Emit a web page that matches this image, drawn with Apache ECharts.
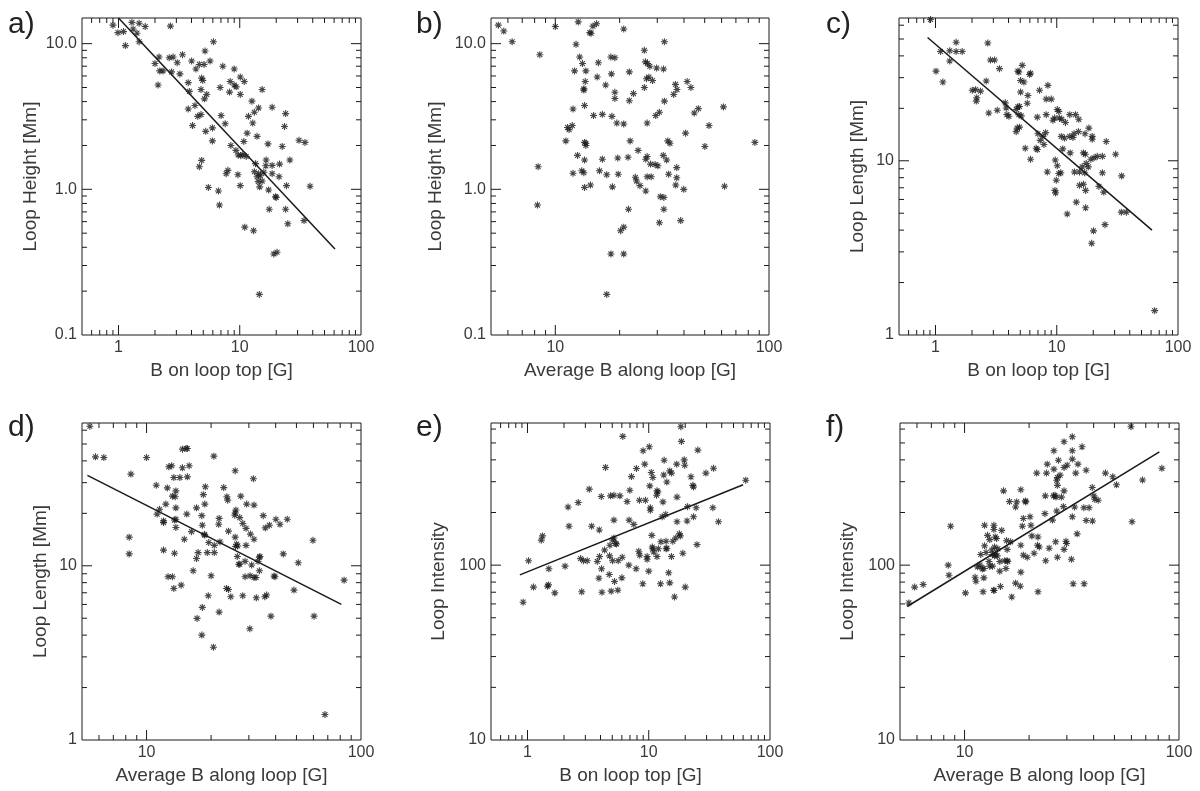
<!DOCTYPE html>
<html>
<head>
<meta charset="utf-8">
<title>Loop parameters vs magnetic field</title>
<script src="https://cdn.jsdelivr.net/npm/echarts@6.0.0/dist/echarts.min.js"></script>
<style>
  html, body { margin: 0; padding: 0; background: #fff; }
  #chart { width: 1200px; height: 791px; }
</style>
</head>
<body>
<div id="chart"></div>
<script>
// loop height [Mm] vs B on loop top [G]
const heightVsBtop = [
  [0.90, 13.4], [0.99, 11.9], [1.10, 12.1], [1.29, 14.0], [1.32, 12.6], [1.42, 11.8], [1.48, 13.8], [1.66, 13.1],
  [2.68, 13.2], [1.14, 9.7], [1.48, 10.3], [6.07, 10.3], [5.17, 8.9], [3.37, 8.4], [2.82, 8.1], [2.16, 8.1],
  [2.62, 8.0], [2.0, 7.3], [3.05, 7.4], [4.01, 7.6], [5.69, 7.6], [7.25, 7.0], [9.0, 6.7], [4.64, 7.2],
  [5.08, 7.2], [4.35, 6.7], [2.19, 6.5], [2.33, 6.5], [2.74, 6.4], [3.21, 6.2], [4.85, 5.8], [4.95, 5.6],
  [10.1, 5.9], [10.9, 5.5], [8.34, 5.5], [9.0, 5.2], [9.35, 5.05], [3.76, 5.4], [2.12, 5.2], [6.89, 5.0],
  [3.84, 4.7], [4.79, 4.84], [15.3, 4.84], [5.34, 4.48], [5.11, 4.18], [8.24, 4.65], [10.1, 4.48], [12.6, 4.03],
  [3.76, 3.56], [4.27, 3.76], [7.02, 3.21], [14.3, 3.62], [13.2, 3.38], [11.8, 3.17], [18.5, 3.66], [23.9, 3.31],
  [4.5, 3.17], [4.79, 3.26], [4.08, 2.74], [7.58, 2.82], [12.8, 2.85], [23.4, 2.70], [5.24, 2.50], [5.95, 2.64],
  [11.5, 2.43], [13.9, 2.31], [10.8, 2.13], [5.95, 2.15], [17.1, 2.05], [30.8, 2.17], [34.5, 2.10], [22.4, 1.97],
  [8.45, 2.0], [9.3, 1.85], [9.7, 1.72], [10.2, 1.70], [10.6, 1.73], [11.3, 1.68], [16.5, 1.59], [4.64, 1.43],
  [4.85, 1.58], [13.5, 1.50], [16.4, 1.45], [21.3, 1.49], [18.5, 1.46], [25.9, 1.59], [13.2, 1.32], [15.8, 1.31],
  [14.3, 1.28], [13.9, 1.22], [14.8, 1.24], [7.98, 1.35], [7.73, 1.28], [9.66, 1.26], [21.1, 1.22], [18.5, 1.28],
  [14.2, 1.13], [15.3, 1.14], [14.6, 1.04], [10.1, 1.06], [5.51, 1.03], [6.67, 0.975], [24.3, 1.06], [17.3, 0.99],
  [38.0, 1.05], [19.7, 0.89], [20.0, 0.88], [6.8, 0.78], [17.5, 0.73], [23.9, 0.73], [33.9, 0.61], [24.9, 0.58],
  [11.0, 0.55], [13.0, 0.52], [19.1, 0.36], [20.3, 0.37], [14.5, 0.19]
];

// loop height [Mm] vs average B along loop [G]
const heightVsBavg = [
  [5.41, 13.4], [5.74, 12.2], [6.28, 10.3], [10.0, 13.1], [12.8, 14.1], [14.5, 11.9], [14.7, 11.8], [15.0, 13.2],
  [15.6, 13.7], [20.9, 12.6], [8.46, 8.4], [32.4, 10.3], [12.5, 9.9], [13.0, 8.1], [13.4, 7.3], [12.3, 6.5],
  [13.9, 6.5], [15.9, 7.4], [15.7, 5.9], [13.8, 5.5], [13.6, 4.9], [13.6, 4.8], [13.7, 3.76], [12.1, 3.56],
  [18.2, 8.1], [19.0, 8.0], [18.3, 6.2], [17.2, 5.2], [19.0, 4.64], [19.0, 4.2], [22.2, 6.4], [23.2, 4.54],
  [22.2, 4.06], [26.1, 9.0], [26.4, 7.5], [27.0, 7.3], [27.7, 7.0], [26.1, 5.0], [26.7, 5.74], [27.4, 5.89],
  [28.5, 5.58], [29.8, 6.8], [32.1, 6.7], [32.4, 4.03], [36.5, 5.25], [37.1, 4.84], [35.8, 4.48], [41.4, 5.5],
  [43.1, 5.0], [44.7, 3.34], [46.7, 3.58], [52.4, 2.74], [40.7, 2.43], [61.2, 3.68], [15.1, 3.21], [16.6, 3.27],
  [18.4, 3.17], [19.4, 2.85], [20.9, 2.81], [26.9, 2.85], [29.5, 3.21], [30.7, 3.38], [11.4, 2.66], [11.6, 2.57],
  [12.0, 2.74], [11.2, 2.15], [13.7, 2.10], [13.9, 2.0], [13.9, 2.07], [22.4, 2.15], [33.6, 2.15], [34.4, 2.07],
  [50.1, 1.97], [85.9, 2.10], [12.7, 1.71], [13.7, 1.59], [16.6, 1.61], [19.6, 1.64], [21.9, 1.66], [24.4, 1.85],
  [26.5, 1.61], [26.9, 1.68], [27.9, 1.49], [29.3, 1.48], [30.2, 1.45], [32.0, 1.71], [33.2, 1.59], [37.0, 1.41],
  [12.1, 1.29], [13.3, 1.34], [13.6, 1.30], [16.1, 1.34], [17.4, 1.26], [19.7, 1.27], [23.7, 1.21], [24.0, 1.14],
  [24.9, 1.06], [26.5, 0.975], [26.9, 1.22], [28.1, 1.22], [33.9, 1.27], [37.0, 1.20], [36.6, 1.07], [39.9, 1.0],
  [14.6, 1.07], [13.7, 1.03], [18.5, 1.04], [61.9, 1.05], [8.31, 1.43], [8.25, 0.78], [22.0, 0.73], [31.0, 0.89],
  [32.2, 0.88], [32.2, 0.73], [30.7, 0.59], [38.6, 0.61], [20.2, 0.52], [20.9, 0.55], [18.2, 0.36], [20.9, 0.36],
  [17.4, 0.19]
];

// loop length [Mm] vs B on loop top [G]
const lengthVsBtop = [
  [0.91, 64.7], [1.48, 47.9], [2.70, 47.4], [1.10, 42.4], [1.31, 42.8], [1.48, 42.4], [1.66, 42.4], [1.31, 37.4],
  [2.84, 37.9], [3.07, 37.9], [5.19, 35.3], [3.37, 33.8], [1.01, 32.7], [4.78, 32.7], [4.87, 32.3], [6.08, 31.8],
  [5.97, 31.3], [2.62, 28.7], [1.15, 28.3], [5.03, 28.9], [5.36, 28.3], [8.45, 27.1], [2.01, 25.4], [2.14, 25.6],
  [7.21, 25.4], [2.35, 25.1], [5.03, 24.8], [5.78, 23.7], [2.19, 23.0], [8.19, 22.6], [9.01, 22.6], [2.17, 22.0],
  [5.71, 21.4], [3.76, 21.5], [4.78, 20.4], [3.83, 20.1], [4.93, 20.5], [3.23, 19.5], [4.63, 19.7], [10.1, 19.7],
  [10.4, 19.2], [2.75, 18.8], [3.88, 18.4], [4.03, 18.0], [4.87, 18.4], [5.10, 18.1], [6.91, 17.8], [8.19, 18.4],
  [9.60, 17.6], [10.5, 17.6], [11.0, 17.3], [9.30, 17.1], [12.8, 18.4], [14.3, 18.4], [15.2, 17.3], [11.8, 16.6],
  [4.72, 15.4], [4.93, 15.6], [4.63, 14.7], [18.4, 15.4], [8.09, 14.5], [15.1, 14.7], [6.99, 14.3], [7.69, 13.8],
  [10.9, 13.8], [11.6, 13.5], [12.8, 13.8], [13.6, 13.6], [17.1, 14.3], [13.9, 14.3], [7.31, 13.1], [19.6, 13.8],
  [19.6, 13.3], [25.6, 12.9], [7.84, 12.4], [5.50, 11.8], [6.77, 11.8], [6.91, 11.6], [11.2, 11.7], [12.9, 11.1],
  [16.6, 11.1], [17.2, 10.9], [23.8, 10.6], [21.6, 10.6], [30.6, 10.9], [20.3, 10.4], [19.1, 10.2], [6.08, 10.2],
  [9.72, 10.1], [10.1, 9.36], [16.2, 9.23], [17.5, 9.66], [18.2, 9.23], [23.8, 8.53], [10.4, 8.45], [10.8, 8.53],
  [14.0, 8.63], [15.4, 8.63], [17.0, 8.53], [8.35, 8.63], [34.3, 8.19], [9.91, 7.73], [16.6, 7.33], [15.4, 7.23],
  [17.3, 6.76], [9.66, 6.76], [9.78, 6.53], [24.4, 6.61], [22.3, 7.13], [14.5, 5.79], [17.3, 5.37], [34.1, 5.07],
  [37.5, 5.07], [12.2, 4.95], [25.0, 4.30], [20.1, 3.96], [19.4, 3.36], [64.2, 1.38]
];

// loop length [Mm] vs average B along loop [G]
const lengthVsBavg = [
  [5.44, 63.2], [14.7, 46.7], [15.3, 47.1], [15.5, 47.1], [5.78, 42.2], [6.32, 41.8], [10.0, 41.8], [20.6, 42.6],
  [12.7, 37.0], [13.1, 37.5], [14.7, 36.5], [15.8, 37.5], [8.45, 33.6], [25.9, 35.1], [13.4, 32.1], [14.3, 32.1],
  [15.5, 32.4], [31.5, 31.6], [11.1, 29.0], [12.5, 28.0], [22.9, 28.1], [13.7, 26.9], [13.2, 25.1], [13.6, 24.9],
  [23.7, 24.9], [23.9, 23.8], [27.5, 25.1], [18.8, 28.4], [18.4, 25.6], [12.3, 22.6], [18.7, 22.6], [29.3, 22.6],
  [31.7, 22.3], [11.5, 21.1], [13.7, 21.5], [17.1, 21.5], [11.2, 19.8], [15.4, 19.8], [26.1, 20.9], [25.9, 20.1],
  [25.8, 19.5], [27.2, 18.9], [21.8, 18.7], [18.1, 19.4], [35.0, 19.4], [12.0, 18.1], [13.7, 18.5], [13.5, 18.3],
  [12.0, 17.7], [21.7, 17.3], [13.7, 16.6], [16.2, 15.7], [18.2, 17.1], [18.6, 15.1], [18.7, 15.0], [24.1, 15.8],
  [28.1, 17.5], [29.1, 16.4], [35.8, 16.5], [37.4, 17.1], [40.1, 18.5], [41.9, 17.3], [45.3, 18.5], [30.5, 15.2],
  [25.9, 14.6], [31.7, 14.2], [15.0, 14.2], [8.30, 14.6], [19.5, 13.6], [22.0, 13.7], [26.3, 13.3], [29.1, 13.1],
  [26.0, 12.9], [26.6, 13.0], [59.7, 14.0], [20.7, 13.1], [12.0, 12.3], [13.5, 11.8], [17.4, 11.9], [19.2, 11.9],
  [20.7, 11.9], [26.5, 11.3], [33.6, 11.2], [43.4, 11.7], [8.30, 11.7], [17.1, 11.0], [26.9, 10.2], [27.2, 10.2],
  [28.8, 10.6], [30.9, 10.1], [33.1, 10.6], [33.8, 11.3], [51.0, 10.4], [16.5, 9.36], [28.8, 8.65], [30.4, 8.76],
  [31.7, 8.57], [32.4, 8.57], [33.6, 9.36], [39.3, 8.73], [39.7, 8.65], [20.0, 8.76], [12.6, 8.65], [13.2, 8.65],
  [14.5, 7.74], [13.4, 7.41], [23.6, 7.41], [24.1, 7.31], [19.4, 6.73], [24.7, 6.64], [28.1, 6.73], [35.6, 6.64],
  [36.3, 6.79], [48.7, 7.25], [83.4, 8.27], [32.5, 6.55], [21.8, 5.42], [18.2, 5.77], [17.2, 4.99], [38.0, 5.14],
  [60.4, 5.14], [30.3, 4.35], [18.1, 4.00], [20.5, 3.41], [67.9, 1.40]
];

// loop intensity vs B on loop top [G]
const intensityVsBtop = [
  [18.4, 619], [6.11, 545], [18.6, 510], [10.1, 475], [8.99, 451], [25.4, 455], [13.4, 398], [19.6, 400],
  [17.0, 378], [19.8, 373], [9.27, 378], [7.92, 357], [4.40, 362], [34.2, 358], [10.5, 339], [14.9, 346],
  [15.4, 336], [13.3, 328], [10.8, 317], [7.20, 321], [29.6, 336], [22.3, 320], [14.1, 299], [3.23, 272],
  [10.2, 284], [23.1, 286], [23.4, 280], [6.98, 268], [11.7, 266], [11.9, 262], [63.1, 306], [4.06, 247],
  [4.84, 249], [5.16, 251], [5.78, 249], [11.6, 251], [17.1, 245], [8.38, 235], [9.39, 235], [6.63, 231],
  [13.1, 230], [2.16, 215], [2.62, 228], [10.3, 213], [10.3, 206], [20.9, 216], [24.6, 213], [33.8, 213],
  [12.9, 189], [13.8, 195], [5.16, 181], [6.89, 181], [7.53, 171], [20.7, 179], [23.4, 189], [37.6, 177],
  [2.20, 167], [3.38, 167], [3.91, 159], [17.1, 177], [17.9, 151], [18.2, 147], [1.33, 147], [1.30, 139],
  [10.6, 148], [5.16, 143], [5.06, 139], [4.78, 130], [5.32, 133], [5.42, 132], [12.6, 136], [13.9, 137],
  [15.8, 137], [16.7, 143], [25.0, 131], [4.32, 122], [8.27, 120], [8.43, 114], [10.7, 127], [10.8, 124],
  [11.0, 119], [12.0, 124], [13.9, 124], [14.1, 125], [19.1, 117], [6.04, 111], [4.75, 113], [3.93, 112],
  [2.74, 109], [2.89, 106], [3.11, 106], [5.03, 106], [5.60, 106], [6.85, 100], [9.69, 112], [9.69, 108],
  [11.7, 112], [15.4, 112], [1.02, 106], [2.04, 98.7], [3.76, 105], [1.50, 95.3], [4.08, 95.3], [7.87, 95.3],
  [10.0, 92.4], [4.72, 88.4], [14.6, 90.4], [3.88, 84.2], [5.22, 80.6], [6.00, 84.6], [8.93, 78.2], [12.5, 78.2],
  [14.9, 79.2], [20.0, 74.9], [1.12, 74.9], [1.46, 75.8], [1.49, 77.1], [1.68, 69.4], [2.80, 70.4], [4.11, 70.0],
  [4.90, 71.0], [5.56, 71.9], [16.3, 65.8], [0.92, 61.4]
];

// loop intensity vs average B along loop [G]
const intensityVsBavg = [
  [59.7, 619], [31.8, 542], [29.1, 508], [31.8, 451], [26.1, 451], [35.3, 475], [27.4, 398], [31.8, 404],
  [24.3, 378], [33.8, 378], [21.7, 336], [24.1, 336], [26.1, 354], [29.1, 362], [30.1, 373], [33.0, 336],
  [36.9, 349], [45.4, 336], [49.1, 320], [27.9, 327], [27.1, 317], [26.9, 306], [27.1, 286], [29.1, 266],
  [15.2, 266], [18.3, 270], [51.1, 288], [39.4, 278], [67.6, 307], [83.2, 358], [23.8, 249], [26.0, 249],
  [26.4, 251], [26.7, 245], [28.3, 245], [40.1, 249], [40.5, 238], [42.0, 235], [16.2, 231], [17.5, 230],
  [19.3, 230], [19.2, 233], [17.3, 215], [28.9, 216], [32.6, 215], [36.0, 213], [38.1, 213], [26.9, 204],
  [23.7, 197], [20.2, 189], [31.8, 189], [18.8, 185], [25.7, 181], [36.9, 180], [39.5, 179], [60.4, 177],
  [12.4, 169], [13.7, 169], [18.6, 167], [20.4, 169], [8.61, 167], [13.7, 160], [14.9, 158], [33.5, 151],
  [20.6, 147], [22.0, 145], [12.8, 148], [13.9, 145], [13.1, 140], [14.1, 142], [16.4, 136], [26.6, 136],
  [29.7, 137], [29.9, 133], [15.7, 138], [18.3, 130], [21.9, 130], [22.3, 127], [24.8, 125], [12.4, 129],
  [13.8, 127], [13.4, 122], [14.3, 124], [13.9, 116], [12.6, 118], [13.5, 115], [15.8, 123], [18.8, 114],
  [19.6, 111], [21.1, 117], [27.1, 111], [29.1, 123], [31.5, 108], [11.9, 115], [13.8, 113], [14.2, 113],
  [15.4, 106], [15.8, 106], [13.0, 105], [14.6, 105], [15.9, 105], [23.9, 106], [8.39, 100], [11.8, 100],
  [13.1, 98.7], [11.5, 97.8], [13.5, 98.7], [12.3, 95.7], [12.1, 95.1], [14.6, 92.4], [15.6, 95.7], [8.46, 87.6],
  [11.2, 85.3], [11.3, 80.9], [12.3, 84.6], [18.3, 91.2], [5.85, 74.9], [6.41, 77.5], [17.3, 78.9], [18.2, 75.8],
  [14.7, 75.5], [32.1, 78.2], [36.1, 78.2], [10.1, 69.4], [12.2, 70.4], [13.7, 71.9], [13.7, 71.6], [22.0, 70.4],
  [16.6, 65.8], [5.50, 60.8]
];

// power-law fit lines (end points)
const fitHeightBtop = [[1.0, 15], [61, 0.39]];
const fitLengthBtop = [[0.86, 51], [61, 4.0]];
const fitLengthBavg = [[5.3, 33], [81, 6.0]];
const fitIntensityBtop = [[0.865, 88], [60, 288]];
const fitIntensityBavg = [[5.4, 58], [81, 445]];

const panelLetters = ['a)', 'b)', 'c)', 'd)', 'e)', 'f)'];
const xTitles = ['B on loop top [G]', 'Average B along loop [G]', 'B on loop top [G]',
                 'Average B along loop [G]', 'B on loop top [G]', 'Average B along loop [G]'];
const yTitles = ['Loop Height [Mm]', 'Loop Height [Mm]', 'Loop Length [Mm]',
                 'Loop Length [Mm]', 'Loop Intensity', 'Loop Intensity'];

const FONT = 'Liberation Sans';
const INK = '#1a1a1a';
const TEXT = '#3a3a3a';
// IDL style asterisk
const STAR = 'path://M5 0L5 10M0 5L10 5M1.5 1.5L8.5 8.5M8.5 1.5L1.5 8.5';

const panels = [
  { data: heightVsBtop, fit: fitHeightBtop, box: [82, 18, 279, 317], xr: [0.5, 100], yr: [0.1, 15], yDec: 1, yGap: 42, letter: [8, 10] },
  { data: heightVsBavg, fit: null, box: [491, 18, 278, 317], xr: [5, 100], yr: [0.1, 15], yDec: 1, yGap: 46, letter: [416, 10] },
  { data: lengthVsBtop, fit: fitLengthBtop, box: [899, 18, 279, 317], xr: [0.5, 100], yr: [1, 66], yDec: 0, yGap: 32, letter: [826, 10] },
  { data: lengthVsBavg, fit: fitLengthBavg, box: [82, 423, 279, 317], xr: [5, 100], yr: [1, 66], yDec: 0, yGap: 32, letter: [8, 413] },
  { data: intensityVsBtop, fit: fitIntensityBtop, box: [491, 423, 279, 317], xr: [0.5, 100], yr: [10, 650], yDec: 0, yGap: 43, letter: [416, 413] },
  { data: intensityVsBavg, fit: fitIntensityBavg, box: [900, 423, 279, 317], xr: [5, 100], yr: [10, 650], yDec: 0, yGap: 43, letter: [826, 413] }
];

function decadeLabel (decimals) {
  return function (v) {
    const l = Math.log10(v);
    if (Math.abs(l - Math.round(l)) > 1e-6) return '';
    return Math.pow(10, Math.round(l)).toFixed(decimals);
  };
}

// minor/major tick positions of a log axis (1..9 x 10^k)
function logTicks (min, max) {
  const out = [];
  for (let e = Math.floor(Math.log10(min)); e <= Math.ceil(Math.log10(max)); e++) {
    for (let m = 1; m <= 9; m++) {
      const v = m * Math.pow(10, e);
      if (v > min * 1.0001 && v < max * 0.9999) out.push({ v: v, major: m === 1 });
    }
  }
  return out;
}

// ticks on all four sides, pointing inward
function makeTicks (xr, yr) {
  const xt = logTicks(xr[0], xr[1]);
  const yt = logTicks(yr[0], yr[1]);
  return function (params, api) {
    const cs = params.coordSys;
    const x0 = cs.x, x1 = cs.x + cs.width, y0 = cs.y, y1 = cs.y + cs.height;
    const kids = [];
    const seg = (a, b, c, d) => kids.push({
      type: 'line', shape: { x1: a, y1: b, x2: c, y2: d }, style: { stroke: INK, lineWidth: 1 }
    });
    xt.forEach(t => {
      const px = api.coord([t.v, yr[0]])[0];
      const len = t.major ? 10 : 5;
      seg(px, y1, px, y1 - len);
      seg(px, y0, px, y0 + len);
    });
    yt.forEach(t => {
      const py = api.coord([xr[0], t.v])[1];
      const len = t.major ? 10 : 5;
      seg(x0, py, x0 + len, py);
      seg(x1, py, x1 - len, py);
    });
    return { type: 'group', children: kids };
  };
}

const grids = [], xAxes = [], yAxes = [], series = [], graphics = [];

panels.forEach((p, i) => {
  grids.push({
    left: p.box[0], top: p.box[1], width: p.box[2], height: p.box[3],
    show: true, borderColor: INK, borderWidth: 1, backgroundColor: 'transparent',
    containLabel: false, outerBoundsMode: 'none'
  });
  xAxes.push({
    type: 'log', logBase: 10, gridIndex: i, min: p.xr[0], max: p.xr[1],
    axisLine: { show: false }, axisTick: { show: false }, splitLine: { show: false },
    axisLabel: { formatter: decadeLabel(0), fontSize: 16, color: TEXT, fontFamily: FONT, margin: 5 },
    name: xTitles[i], nameLocation: 'middle', nameGap: 26,
    nameTextStyle: { fontSize: 19, color: TEXT, fontFamily: FONT }
  });
  yAxes.push({
    type: 'log', logBase: 10, gridIndex: i, min: p.yr[0], max: p.yr[1],
    axisLine: { show: false }, axisTick: { show: false }, splitLine: { show: false },
    axisLabel: { formatter: decadeLabel(p.yDec), fontSize: 16, color: TEXT, fontFamily: FONT, margin: 5 },
    name: yTitles[i], nameLocation: 'middle', nameGap: p.yGap,
    nameTextStyle: { fontSize: 19, color: TEXT, fontFamily: FONT }
  });
  series.push({
    type: 'scatter', xAxisIndex: i, yAxisIndex: i, data: p.data,
    symbol: STAR, symbolSize: 7, silent: true,
    itemStyle: { color: INK, borderColor: INK, borderWidth: 1.1 }
  });
  if (p.fit) {
    series.push({
      type: 'line', xAxisIndex: i, yAxisIndex: i, data: p.fit,
      symbol: 'none', silent: true, lineStyle: { color: INK, width: 1.5 }
    });
  }
  series.push({
    type: 'custom', xAxisIndex: i, yAxisIndex: i, silent: true, clip: false,
    data: [[p.xr[0], p.yr[0]]], renderItem: makeTicks(p.xr, p.yr)
  });
  graphics.push({
    type: 'text', left: p.letter[0], top: p.letter[1],
    style: { text: panelLetters[i], fontSize: 30, fontFamily: FONT, fill: '#222' }
  });
});

const chart = echarts.init(document.getElementById('chart'));
chart.setOption({
  animation: false,
  backgroundColor: '#fff',
  grid: grids,
  xAxis: xAxes,
  yAxis: yAxes,
  series: series,
  graphic: graphics
});
</script>
</body>
</html>
